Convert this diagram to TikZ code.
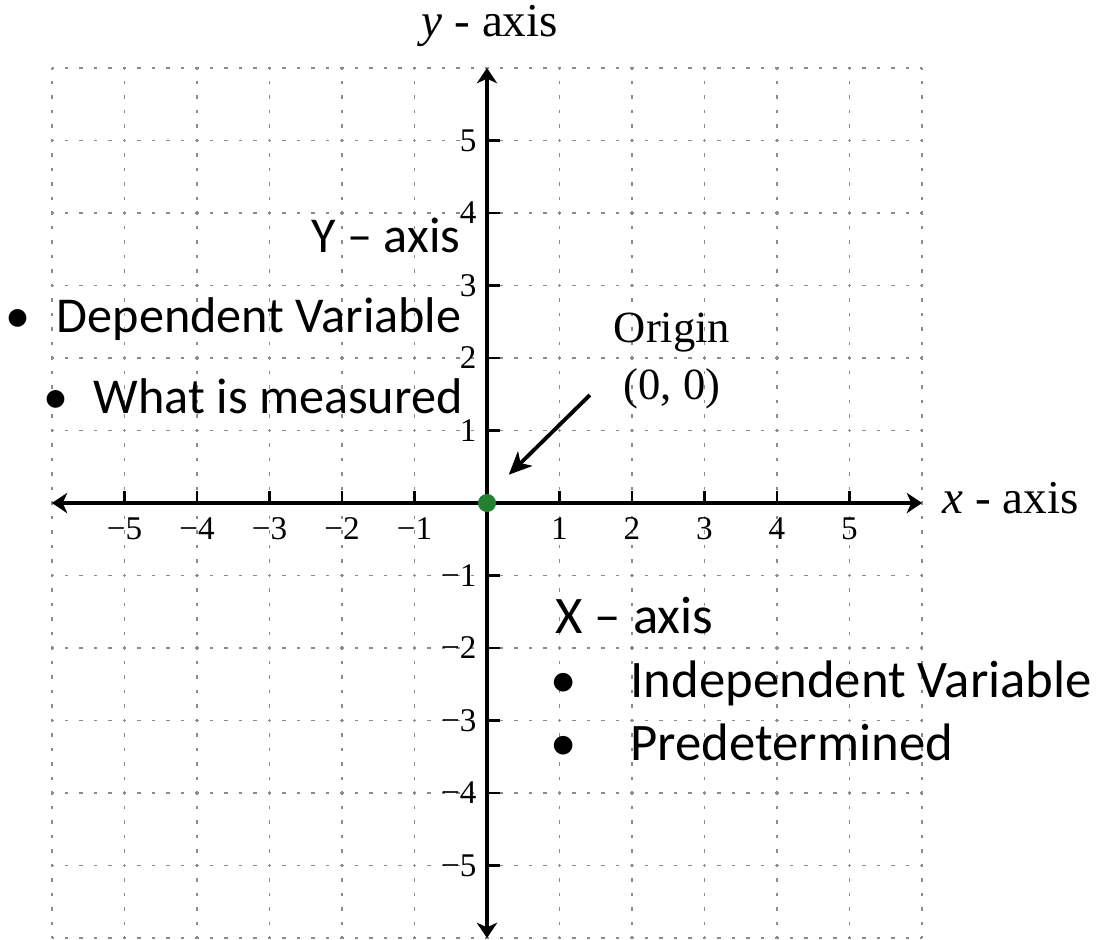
\documentclass[tikz,border=0pt]{standalone}
\usepackage{fontspec}
\setmainfont{Liberation Serif}
\newfontfamily\calfont{Carlito}
\usetikzlibrary{arrows.meta,positioning}
\definecolor{gridgray}{RGB}{140,140,140}
\definecolor{origingreen}{RGB}{38,128,52}
\tikzset{
  gridln/.style={gridgray,line width=0.6pt,dash pattern=on 1.3pt off 4.39pt,dash phase=0.65pt},
  axisln/.style={line width=1.5pt,{Stealth[length=6pt,width=8pt,inset=1.8pt]}-{Stealth[length=6pt,width=8pt,inset=1.8pt]}},
  tickln/.style={line width=1.1pt},
  ticklbl/.style={inner sep=0pt,font=\fontsize{13}{15}\selectfont},
  axlbl/.style={inner sep=0pt,font=\fontsize{18.5}{22}\selectfont},
  origlbl/.style={inner sep=0pt,align=center,font=\fontsize{17.5}{22.4}\selectfont},
  note/.style={inner sep=0pt,font=\calfont\fontsize{19.7}{24}\selectfont},
  bignote/.style={inner sep=0pt,font=\calfont\fontsize{20.7}{25}\selectfont},
  ptr/.style={line width=1.5pt,-{Stealth[length=9pt,width=8pt,inset=2.5pt]}},
  dot/.style={circle,fill=origingreen,inner sep=0pt,minimum size=0.25cm}
}

\begin{document}
\begin{tikzpicture}
\useasboundingbox (-6.717,-6.014) rectangle (8.441,6.938);
% grid
\foreach \k in {-6,...,6} {
  \draw[gridln] (\k,-6) -- (\k,6);
  \draw[gridln] (-6,\k) -- (6,\k);
}
% axes
\coordinate (xmin) at (-6,0);
\coordinate (xmax) at (6,0);
\coordinate (ymin) at (0,-6);
\coordinate (ymax) at (0,6);
\draw[axisln] (xmin) -- (xmax);
\draw[axisln] (ymin) -- (ymax);
\foreach \k/\t in {-5/−5,-4/−4,-3/−3,-2/−2,-1/−1,1/1,2/2,3/3,4/4,5/5} {
  \draw[tickln] (\k,0) -- (\k,0.16);
  \draw[tickln] (0,\k) -- (0.18,\k);
  \node[ticklbl,anchor=base] (xt\k) at (\k,-0.51) {\t};
  \node[ticklbl,anchor=east] (yt\k) at (-0.14,\k) {\t};
}
\node[axlbl,anchor=base] (ylab) at (0.04,6.428) {\textit{y} - axis};
\node[axlbl,anchor=base west] (xlab) at (6.276,-0.138) {\textit{x} - axis};
% origin
\node[dot] (orig) at (0,0) {};
\node[origlbl] (origlbl) at (2.552,1.96) {Origin\\(0, 0)};
\coordinate (ptrtail) at (1.42,1.49);
\coordinate (ptrtip) at (0.30,0.39);
\draw[ptr] (ptrtail) -- (ptrtip);
% notes
\node[note,anchor=base east] (yax) at (-0.36,3.462) {Y – axis};
\node[note,anchor=base east] (dep) at (-0.345,2.345) {Dependent Variable};
\node[note,anchor=base] (depb) at (-6.469,2.345) {•};
\node[note,anchor=base east] (meas) at (-0.331,1.241) {What is measured};
\node[note,anchor=base] (measb) at (-5.945,1.241) {•};
\node[bignote,anchor=base west] (xax) at (0.938,-1.793) {X – axis};
\node[bignote,anchor=base west] (indep) at (1.972,-2.676) {Independent Variable};
\node[bignote,anchor=base] (indepb) at (1.062,-2.676) {•};
\node[bignote,anchor=base west] (pred) at (1.972,-3.545) {Predetermined};
\node[bignote,anchor=base] (predb) at (1.062,-3.545) {•};
\end{tikzpicture}
\end{document}
